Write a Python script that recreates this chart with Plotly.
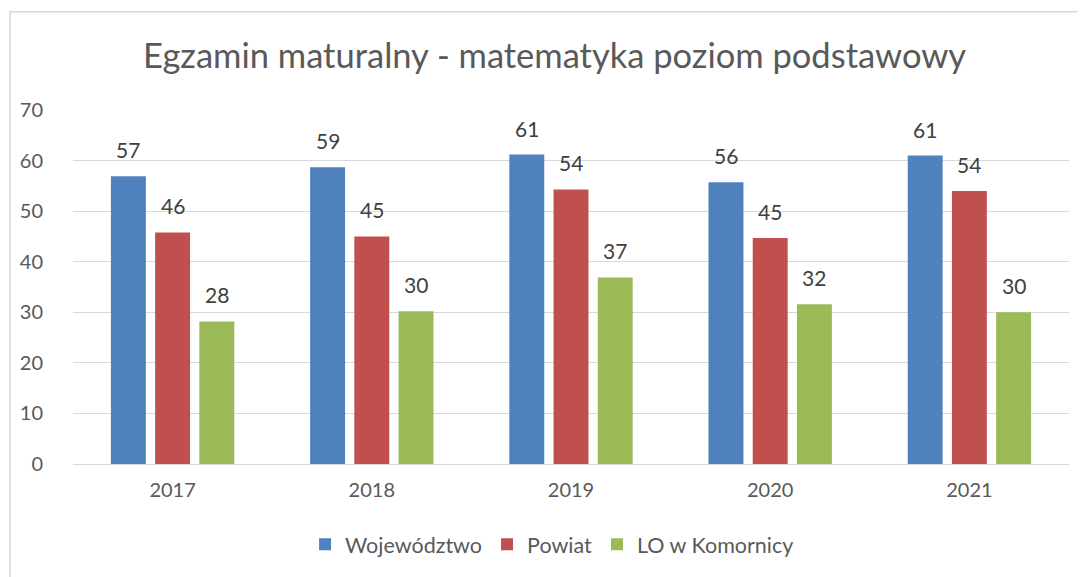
import plotly.graph_objects as go

years = ["2017", "2018", "2019", "2020", "2021"]
series_names = ["Województwo", "Powiat", "LO w Komornicy"]
wojewodztwo = [56.9, 58.7, 61.2, 55.7, 61.0]
powiat = [45.8, 45.0, 54.3, 44.7, 54.0]
lo_komornica = [28.2, 30.2, 36.9, 31.6, 30.0]
colors = ["#4F81BD", "#C0504D", "#9BBB59"]

FONT = "Lato"
series = [wojewodztwo, powiat, lo_komornica]

# page body has an 8px margin; figure sized to fill the 1086x577 window
W, H = 1078, 569
ML, MR, MT, MB = 65, 17, 102, 110
PW = W - ML - MR
PH = H - MT - MB

fig = go.Figure()
for name, vals, col in zip(series_names, series, colors):
    fig.add_trace(go.Bar(
        x=years, y=vals, name=name,
        marker=dict(color=col, line=dict(color=col, width=0)),
        hoverinfo="x+y+name",
    ))

bargap = 0.334
slot = (1 - bargap) / 3
annotations = []
for k, vals in enumerate(series):
    for i, v in enumerate(vals):
        annotations.append(dict(
            x=i + (k - 1) * slot, y=v, xref="x", yref="y",
            text=str(int(round(v))), showarrow=False,
            yanchor="bottom", yshift=12,
            font=dict(family=FONT, size=21, color="#404040"),
        ))

fig.update_layout(
    width=W, height=H,
    margin=dict(l=ML, r=MR, t=MT, b=MB),
    paper_bgcolor="white", plot_bgcolor="white",
    barmode="group", bargap=bargap, bargroupgap=0.21,
    title=dict(text="Egzamin maturalny - matematyka poziom podstawowy",
               x=0.507, xanchor="center", y=0.915, yanchor="middle",
               font=dict(family=FONT, size=34.5, color="#595959")),
    font=dict(family=FONT, color="#595959"),
    xaxis=dict(showgrid=False, showline=False, ticks="", ticklabelstandoff=12,
               tickfont=dict(family=FONT, size=20, color="#595959")),
    yaxis=dict(range=[0, 70], dtick=10, showgrid=True, gridcolor="#D9D9D9",
               gridwidth=1, zeroline=True, zerolinecolor="#D9D9D9", zerolinewidth=1,
               showline=False, ticks="", ticklabelstandoff=29,
               tickfont=dict(family=FONT, size=20, color="#595959")),
    legend=dict(orientation="h", x=0.481, xanchor="center",
                y=(PH - (540 - MT)) / PH, yanchor="middle",
                font=dict(family=FONT, size=21.5, color="#595959"),
                traceorder="normal", itemclick=False),
    annotations=annotations,
    shapes=[dict(type="rect", xref="paper", yref="paper",
                 x0=(2 - ML) / PW, x1=(1077 - ML) / PW,
                 y0=-0.6, y1=(MT + PH - 3) / PH,
                 line=dict(color="#D9D9D9", width=1.5), layer="below")],
)

fig.write_html("out.html")
